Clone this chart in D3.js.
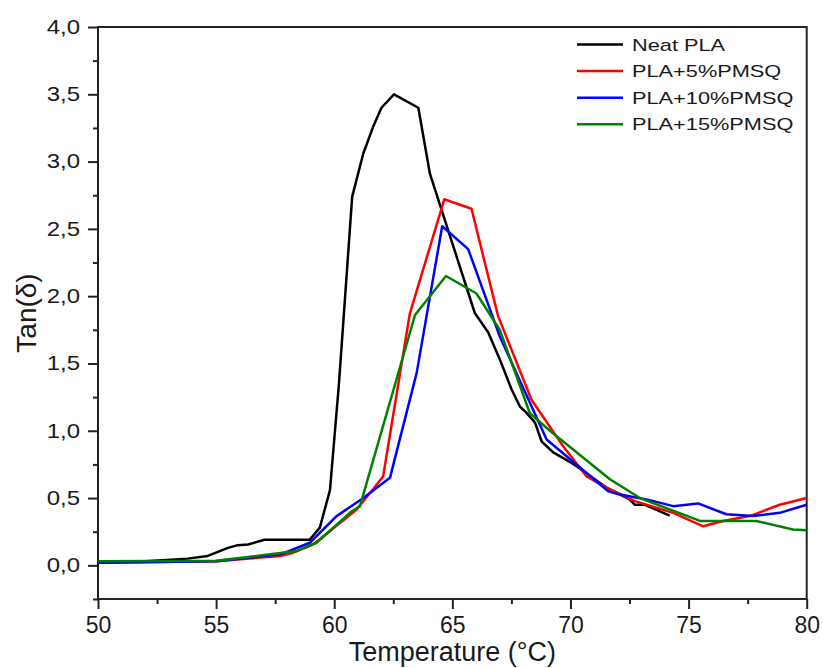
<!DOCTYPE html>
<html>
<head>
<meta charset="utf-8">
<script src="https://cdn.jsdelivr.net/npm/d3@7"></script>
<style>
  body { margin: 0; background: #fff; }
  text { font-family: "Liberation Sans", Arial, sans-serif; fill: #1a1a1a; }
</style>
</head>
<body>
<div id="chart"></div>
<script>
// Tan(delta) vs temperature
const neatT = [50, 52, 53.8, 54.65, 55.5, 55.92, 56.35, 57.05, 58.96, 59.39, 59.82, 60.2, 60.76, 61.23, 61.65, 62.0, 62.53, 63.56, 64.05, 65.95, 66.52, 67.01, 67.5, 67.86, 68.1, 68.5, 68.78, 69.27, 70.15, 71.5, 72.5, 72.73, 73.15, 74.2];
const neatV = [0.03, 0.03, 0.05, 0.07, 0.13, 0.15, 0.155, 0.19, 0.19, 0.28, 0.56, 1.35, 2.74, 3.06, 3.26, 3.40, 3.50, 3.40, 2.91, 1.875, 1.73, 1.53, 1.31, 1.18, 1.14, 1.06, 0.92, 0.84, 0.75, 0.58, 0.49, 0.45, 0.45, 0.37];

const p5T = [50, 55, 57.7, 58.27, 59.11, 59.82, 60.95, 62.07, 63.2, 64.66, 65.81, 66.94, 68.35, 69.69, 70.68, 71.53, 72.73, 74.35, 75.62, 76.46, 77.59, 78.86, 80];
const p5V = [0.02, 0.03, 0.07, 0.094, 0.156, 0.255, 0.415, 0.66, 1.87, 2.72, 2.65, 1.85, 1.23, 0.885, 0.66, 0.577, 0.477, 0.39, 0.29, 0.33, 0.366, 0.45, 0.50];

const p10T = [50, 55, 57.7, 58.97, 60.1, 61.23, 62.36, 63.49, 64.57, 65.67, 67.01, 68.99, 71.6, 72.09, 73.22, 74.35, 75.4, 76.6, 77.73, 78.86, 80];
const p10V = [0.02, 0.03, 0.08, 0.168, 0.366, 0.50, 0.65, 1.43, 2.52, 2.35, 1.70, 0.935, 0.55, 0.527, 0.49, 0.44, 0.46, 0.38, 0.366, 0.39, 0.45];

const p15T = [50, 55, 58.4, 59.25, 60.73, 61.09, 63.42, 64.73, 66.02, 67.01, 68.28, 69.13, 71.67, 72.94, 75.48, 77.87, 79.42, 80];
const p15V = [0.03, 0.035, 0.106, 0.168, 0.40, 0.44, 1.86, 2.15, 2.02, 1.75, 1.13, 1.0, 0.64, 0.50, 0.33, 0.33, 0.267, 0.26];

const seriesNames = ["Neat PLA", "PLA+5%PMSQ", "PLA+10%PMSQ", "PLA+15%PMSQ"];
const seriesColors = ["#000000", "#ff0000", "#0000ff", "#008000"];
const xTicks = [50, 55, 60, 65, 70, 75, 80];
const yTicks = [0, 0.5, 1, 1.5, 2, 2.5, 3, 3.5, 4];

const series = [
    { name: seriesNames[0], color: seriesColors[0], t: neatT, v: neatV },
    { name: seriesNames[1], color: seriesColors[1], t: p5T, v: p5V },
    { name: seriesNames[2], color: seriesColors[2], t: p10T, v: p10V },
    { name: seriesNames[3], color: seriesColors[3], t: p15T, v: p15V }
];

const W = 823, H = 668;
const margin = { top: 27, right: 16.3, bottom: 69, left: 98 };
const width = W - margin.left - margin.right,
      height = H - margin.top - margin.bottom;

const svg = d3.select("#chart").append("svg")
    .attr("width", W).attr("height", H);
const g = svg.append("g")
    .attr("transform", "translate(" + margin.left + "," + margin.top + ")");

const x = d3.scaleLinear().domain([50, 80]).range([0, width]);
const y = d3.scaleLinear().domain([-0.25, 4]).range([height, 0]);

const comma = d => d3.format(".1f")(d).replace(".", ",");

// minor ticks first
g.append("g")
    .attr("transform", "translate(0," + height + ")")
    .call(d3.axisBottom(x).tickValues(d3.range(52.5, 80, 5)).tickSize(5).tickFormat(""))
    .call(a => a.select(".domain").remove())
    .selectAll("line").attr("stroke", "#222").attr("stroke-width", 2);
g.append("g")
    .call(d3.axisLeft(y).tickValues(d3.range(-0.25, 4, 0.5)).tickSize(5).tickFormat(""))
    .call(a => a.select(".domain").remove())
    .selectAll("line").attr("stroke", "#222").attr("stroke-width", 2);

// major ticks
const xAxis = g.append("g")
    .attr("transform", "translate(0," + height + ")")
    .call(d3.axisBottom(x).tickValues(xTicks).tickSize(10).tickPadding(8).tickSizeOuter(0));
xAxis.selectAll("text").attr("font-size", 23).attr("font-family", "Liberation Sans, Arial, sans-serif").attr("fill", "#1a1a1a");

const yAxis = g.append("g")
    .call(d3.axisLeft(y).tickValues(yTicks).tickSize(10).tickFormat(comma).tickSizeOuter(0));
yAxis.selectAll("text")
    .attr("font-size", 20).attr("font-family", "Liberation Sans, Arial, sans-serif").attr("fill", "#1a1a1a")
    .attr("x", -18 / 1.2)
    .attr("transform", "scale(1.2,1)");

g.selectAll(".domain").remove();
g.selectAll(".tick line").attr("stroke", "#222").attr("stroke-width", 2);

// frame
g.append("rect")
    .attr("width", width).attr("height", height)
    .attr("fill", "none").attr("stroke", "#222").attr("stroke-width", 2);

// lines
const line = d3.line()
    .x(d => x(d[0]))
    .y(d => y(d[1]));

series.forEach(s => {
    g.append("path")
        .datum(s.t.map((t, i) => [t, s.v[i]]))
        .attr("d", line)
        .attr("fill", "none")
        .attr("stroke", s.color)
        .attr("stroke-width", 2.5)
        .attr("stroke-linejoin", "round");
});

// legend
const legend = svg.append("g").attr("transform", "translate(577,44.5)");
series.forEach((s, i) => {
    const row = legend.append("g").attr("transform", "translate(0," + (i * 26.6) + ")");
    row.append("line")
        .attr("x1", 0).attr("x2", 46)
        .attr("stroke", s.color).attr("stroke-width", 2.5);
    row.append("text")
        .attr("transform", "translate(55,0) scale(1.28,1)")
        .attr("dy", "0.36em")
        .attr("font-size", 17)
        .text(s.name);
});

// axis titles
svg.append("text")
    .attr("x", margin.left + width / 2)
    .attr("y", 661)
    .attr("text-anchor", "middle")
    .attr("font-size", 27)
    .text("Temperature (°C)");

svg.append("text")
    .attr("transform", "translate(36," + (margin.top + height / 2) + ") rotate(-90)")
    .attr("text-anchor", "middle")
    .attr("font-size", 28)
    .text("Tan(δ)");
</script>
</body>
</html>
